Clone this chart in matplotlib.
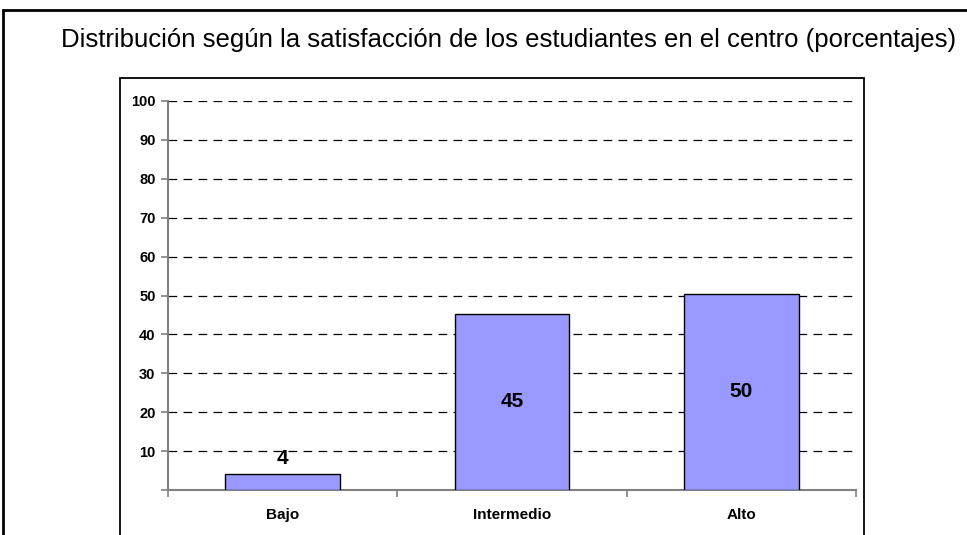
import matplotlib
matplotlib.use("Agg")
import matplotlib.pyplot as plt
from matplotlib.patches import Rectangle

# Data
categories = ["Bajo", "Intermedio", "Alto"]
values = [4.2, 45.3, 50.4]
labels = ["4", "45", "50"]
title = "Distribución según la satisfacción de los estudiantes en el centro (porcentajes)"

W, H = 967, 535
plt.rcParams["font.family"] = ["Liberation Sans", "DejaVu Sans"]

fig = plt.figure(figsize=(W / 100, H / 100), dpi=100)

# outer and inner frames (both run off the bottom of the picture)
fig.patches.append(Rectangle((3 / W, -0.1), 1.2, 1 - 10 / H + 0.1, transform=fig.transFigure,
                             fill=False, edgecolor="black", linewidth=2))
fig.patches.append(Rectangle((120 / W, -0.1), (864 - 120) / W, 1 - 78 / H + 0.1,
                             transform=fig.transFigure, fill=False, edgecolor="black", linewidth=1.3))

fig.text(509 / W, 1 - 40 / H, title, ha="center", va="center", fontsize=18.5)

ax = fig.add_axes([168 / W, 45 / H, (856 - 168) / W, (490 - 101) / H])
x = [i + 0.5 for i in range(len(categories))]
ax.bar(x, values, width=0.5, color="#9999ff", edgecolor="black", linewidth=1, zorder=3)

ax.set_xlim(0, 3)
ax.set_ylim(0, 100)
ax.set_yticks(range(0, 101, 10))
ax.set_yticklabels([""] + [str(v) for v in range(10, 101, 10)], fontweight="bold", fontsize=10.5)
for v in range(10, 101, 10):
    ax.axhline(v, color="black", linestyle=(0, (7, 5)), linewidth=0.9, zorder=1)

ax.set_xticks([0, 1, 2, 3])
ax.set_xticklabels([])
ax.set_xticks(x, minor=True)
ax.set_xticklabels(categories, minor=True, fontweight="bold", fontsize=11)
ax.tick_params(axis="x", which="minor", length=0, pad=13)
ax.tick_params(axis="x", which="major", length=5, direction="out", color="#808080", width=1.2)
ax.tick_params(axis="y", length=5, color="#808080", width=1.2, pad=4)

for s in ["top", "right"]:
    ax.spines[s].set_visible(False)
for s in ["left", "bottom"]:
    ax.spines[s].set_color("#808080")
    ax.spines[s].set_linewidth(1.5)

for xi, v, lab in zip(x, values, labels):
    if v < 10:
        ax.text(xi, v + 1.5, lab, ha="center", va="bottom", fontweight="bold", fontsize=15)
    else:
        ax.text(xi, v / 2, lab, ha="center", va="center", fontweight="bold", fontsize=15, zorder=4)

fig.savefig("out.png", dpi=100)
